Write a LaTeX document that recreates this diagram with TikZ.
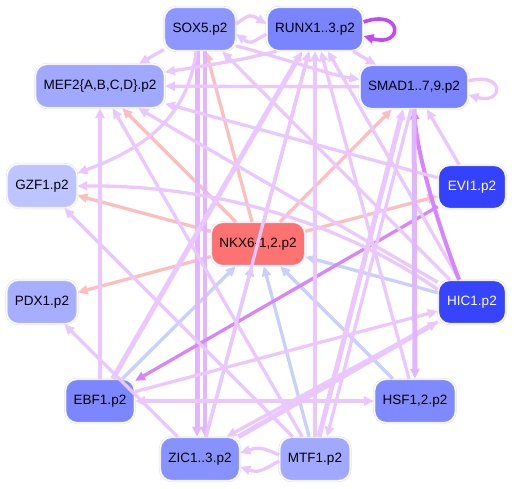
\documentclass[tikz,border=0pt]{standalone}
\usepackage{fontspec}
\setmainfont{Liberation Sans}
\usetikzlibrary{arrows.meta}

\definecolor{rim}{RGB}{218,222,255}
\definecolor{soxfill}{RGB}{142,150,255}
\definecolor{runxfill}{RGB}{122,132,255}
\definecolor{meffill}{RGB}{160,168,255}
\definecolor{smadfill}{RGB}{122,132,255}
\definecolor{gzffill}{RGB}{190,196,255}
\definecolor{nkxfill}{RGB}{255,114,114}
\definecolor{evifill}{RGB}{52,66,255}
\definecolor{pdxfill}{RGB}{168,174,255}
\definecolor{hicfill}{RGB}{54,68,255}
\definecolor{ebffill}{RGB}{124,134,255}
\definecolor{hsffill}{RGB}{128,138,255}
\definecolor{zicfill}{RGB}{136,146,255}
\definecolor{mtffill}{RGB}{160,168,255}
\definecolor{pinkedge}{RGB}{255,190,190}
\definecolor{blueedge}{RGB}{200,208,255}
\definecolor{lilac}{RGB}{234,200,255}
\definecolor{lilacdk}{RGB}{226,182,255}
\definecolor{violetedge}{RGB}{214,132,255}
\definecolor{deepviolet}{RGB}{196,72,250}

\begin{document}
\begin{tikzpicture}[x=1pt,y=-1pt,
  gene/.style={rectangle, rounded corners=12pt, minimum width=68pt,
    minimum height=44pt, inner xsep=8.5pt, draw=rim, line width=0.5pt,
    double=white, double distance=1.2pt, font=\fontsize{13.5}{16}\selectfont},
  tie/.style={line width=3.3pt, -{Triangle[length=10pt,width=9pt]}},
  rose/.style={tie, draw=pinkedge},
  sky/.style={tie, draw=blueedge},
  lil/.style={tie, draw=lilac},
  lild/.style={tie, draw=lilacdk},
  vio/.style={tie, draw=violetedge},
  heavy/.style={line width=5pt}]
  \useasboundingbox (0,0) rectangle (514,489);

  % genes
  \node[gene, fill=soxfill] (sox) at (200,29) {SOX5.p2};
  \node[gene, fill=runxfill] (runx) at (315,29) {RUNX1..3.p2};
  \node[gene, fill=meffill] (mef) at (100,86) {MEF2\{A,B,C,D\}.p2};
  \node[gene, fill=smadfill] (smad) at (414,87) {SMAD1..7,9.p2};
  \node[gene, fill=gzffill] (gzf) at (42,186) {GZF1.p2};
  \node[gene, fill=evifill, text=white] (evi) at (472,187) {EVI1.p2};
  \node[gene, fill=nkxfill] (nkx) at (258,244) {NKX6-1,2.p2};
  \node[gene, fill=pdxfill] (pdx) at (42,302) {PDX1.p2};
  \node[gene, fill=hicfill, text=white] (hic) at (472,302) {HIC1.p2};
  \node[gene, fill=ebffill] (ebf) at (100,401) {EBF1.p2};
  \node[gene, fill=hsffill] (hsf) at (415,401) {HSF1,2.p2};
  \node[gene, fill=zicfill] (zic) at (200,459) {ZIC1..3.p2};
  \node[gene, fill=mtffill] (mtf) at (315,459) {MTF1.p2};

  % from NKX6
  \draw[rose] (nkx) -- (sox);
  \draw[rose] (nkx) -- (runx);
  \draw[rose] (nkx) -- (mef);
  \draw[rose] (nkx) -- (smad);
  \draw[rose] (nkx) -- (gzf);
  \draw[rose] (nkx) -- (pdx);
  \draw[rose] (nkx) -- (evi);
  % into NKX6
  \draw[sky] (hic) -- (nkx);
  \draw[sky] (ebf) -- (nkx);
  \draw[sky] (zic) -- (nkx);
  \draw[sky] (mtf) -- (nkx);
  \draw[sky] (hsf) -- (nkx);

  % top row
  \draw[lil] ([yshift=5pt]sox.east) .. controls (250,14) .. ([yshift=5pt]runx.west);
  \draw[lil] ([yshift=-5pt]runx.west) .. controls (250,44) .. ([yshift=-5pt]sox.east);
  \draw[lil] (sox) -- (mef);
  \draw[lild, heavy] ([xshift=-3pt]sox.south) -- ([xshift=-3pt]zic.north);
  \draw[lild] ([xshift=5pt]sox.south) -- ([xshift=5pt]zic.north);
  \draw[lil] (sox.-25) .. controls (290,60) and (330,75) .. (smad.172);
  \draw[lil] (sox.-100) .. controls (188,120) and (140,150) .. (gzf.20);
  \draw[lil] (runx.-150) .. controls (240,60) .. (mef.12);
  \draw[lil] (runx) -- (smad);
  \draw[lil] (smad) -- (mef);
  \draw[lil] ([yshift=6pt]smad.east) .. controls +(36,-10) and +(36,10) .. ([yshift=-8pt]smad.east);
  \draw[tie, draw=deepviolet, line width=3.6pt] ([yshift=7pt]runx.east) .. controls +(40,-14) and +(40,12) .. ([yshift=-7pt]runx.east);

  % left side
  \draw[lil] (ebf) -- (mef);
  \draw[lil, heavy] (ebf) -- (runx);
  \draw[lil, {Triangle[length=10pt,width=9pt]}-{Triangle[length=10pt,width=9pt]}] (ebf) -- (hsf);
  \draw[lil] (ebf) -- (hic);
  \draw[vio] (evi) -- (ebf);
  \draw[lil] (zic) -- (pdx);
  \draw[lil] (zic) -- (runx);

  % right side
  \draw[lil] (hic.160) .. controls (330,215) and (200,185) .. (gzf.east);
  \draw[lil] (hic) -- (mef);
  \draw[lil] (hic) -- (sox);
  \draw[lil] (hic) -- (runx);
  \draw[vio, line width=4pt] (hic.120) .. controls (440,230) and (418,160) .. (smad.south);
  \draw[lil, heavy] (zic) -- (hic);
  \draw[lil] (hic.-150) -- (zic.40);
  \draw[lil] (evi) -- (mef);
  \draw[lil] (evi) -- (smad);
  \draw[lild, heavy] (smad) -- (hsf);
  \draw[lil] (hsf) -- (runx);

  % bottom row
  \draw[lil, heavy] ([xshift=4pt]mtf.north) -- ([xshift=-11pt]smad.south);
  \draw[lil] ([xshift=-3pt]smad.south) -- ([xshift=12pt]mtf.north);
  \draw[lil] (mtf) -- (runx);
  \draw[lil] (mtf) -- (mef);
  \draw[lil] (mtf) -- (gzf);
  \draw[lil] ([yshift=4pt]mtf.west) .. controls +(-18,-8) and +(18,-6) .. ([yshift=6pt]zic.east);
  \draw[lil] ([yshift=-2pt]mtf.west) .. controls +(-18,10) and +(18,6) .. ([yshift=-8pt]zic.east);
\end{tikzpicture}
\end{document}
